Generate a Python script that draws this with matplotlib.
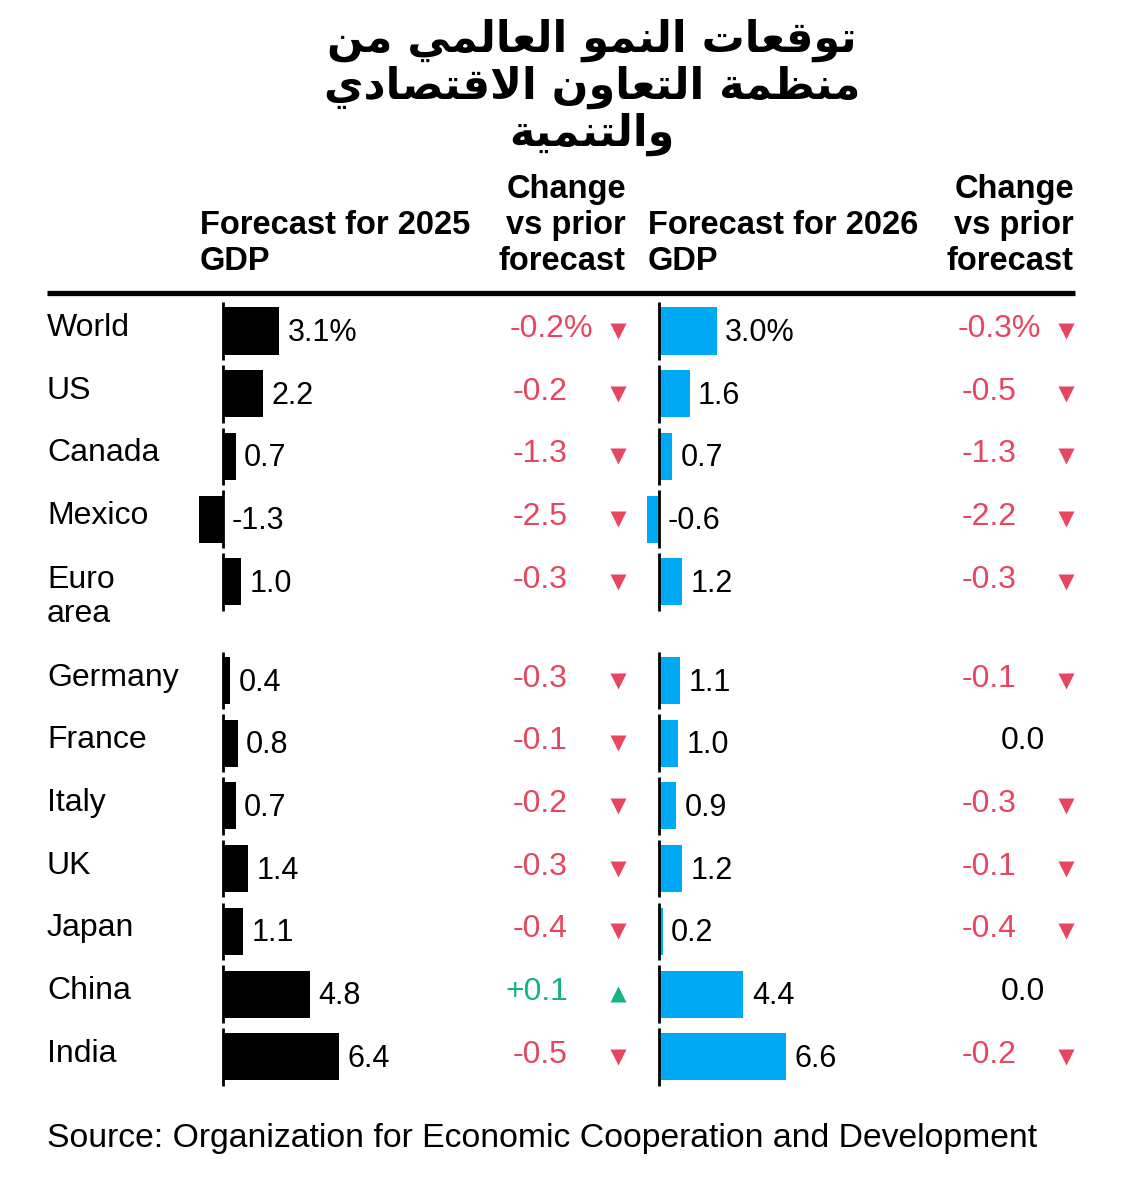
import matplotlib
matplotlib.use("Agg")
import matplotlib.pyplot as plt
import numpy as np

# ---------------- data ----------------
countries = ["World", "US", "Canada", "Mexico", "Euro\narea", "Germany", "France",
             "Italy", "UK", "Japan", "China", "India"]
gdp_2025 = [3.1, 2.2, 0.7, -1.3, 1.0, 0.4, 0.8, 0.7, 1.4, 1.1, 4.8, 6.4]
chg_2025 = [-0.2, -0.2, -1.3, -2.5, -0.3, -0.3, -0.1, -0.2, -0.3, -0.4, 0.1, -0.5]
gdp_2026 = [3.0, 1.6, 0.7, -0.6, 1.2, 1.1, 1.0, 0.9, 1.2, 0.2, 4.4, 6.6]
chg_2026 = [-0.3, -0.5, -1.3, -2.2, -0.3, -0.1, 0.0, -0.3, -0.1, -0.4, 0.0, -0.2]

title_lines = ["توقعات النمو العالمي من", "منظمة التعاون الاقتصادي", "والتنمية"]
header_2025 = "Forecast for 2025\nGDP"
header_2026 = "Forecast for 2026\nGDP"
header_chg = "Change\nvs prior\nforecast"
source = "Source: Organization for Economic Cooperation and Development"

# ---------------- arabic shaping (presentation forms, visual order) ----------------
FORMS = {
    '\u0627': (0xFE8D, 0xFE8E, None, None),
    '\u062A': (0xFE95, 0xFE96, 0xFE97, 0xFE98),
    '\u0629': (0xFE93, 0xFE94, None, None),
    '\u062F': (0xFEA9, 0xFEAA, None, None),
    '\u0635': (0xFEB9, 0xFEBA, 0xFEBB, 0xFEBC),
    '\u0638': (0xFEC5, 0xFEC6, 0xFEC7, 0xFEC8),
    '\u0639': (0xFEC9, 0xFECA, 0xFECB, 0xFECC),
    '\u0642': (0xFED5, 0xFED6, 0xFED7, 0xFED8),
    '\u0644': (0xFEDD, 0xFEDE, 0xFEDF, 0xFEE0),
    '\u0645': (0xFEE1, 0xFEE2, 0xFEE3, 0xFEE4),
    '\u0646': (0xFEE5, 0xFEE6, 0xFEE7, 0xFEE8),
    '\u0648': (0xFEED, 0xFEEE, None, None),
    '\u064A': (0xFEF1, 0xFEF2, 0xFEF3, 0xFEF4),
    'LA': (0xFEFB, 0xFEFC, None, None),
}


def shape_word(word):
    toks = []
    i = 0
    while i < len(word):
        if word[i] == '\u0644' and i + 1 < len(word) and word[i + 1] == '\u0627':
            toks.append('LA')
            i += 2
        else:
            toks.append(word[i])
            i += 1
    out = []
    for k, t in enumerate(toks):
        f = FORMS.get(t)
        if f is None:
            out.append(t)
            continue
        prev_join = k > 0 and FORMS.get(toks[k - 1]) is not None and FORMS[toks[k - 1]][2] is not None
        next_join = f[2] is not None and k + 1 < len(toks) and FORMS.get(toks[k + 1]) is not None
        if prev_join and next_join:
            c = f[3]
        elif prev_join:
            c = f[1]
        elif next_join:
            c = f[2]
        else:
            c = f[0]
        out.append(chr(c))
    return ''.join(out)


def shape_line(line):
    shaped = ' '.join(shape_word(w) for w in line.split(' '))
    return shaped[::-1]


# ---------------- layout ----------------
W, H = 1122, 1200
fig = plt.figure(figsize=(W / 100, H / 100), dpi=100)
plt.rcParams['font.family'] = ['Liberation Sans', 'DejaVu Sans']

ROW0, ROWH = 331.0, 62.7
Y0, Y1 = 295.0, 1100.0
n = len(countries)
pos = np.arange(n) + np.where(np.arange(n) >= 5, 0.575, 0.0)
row_px = ROW0 + pos * ROWH

RED = '#E6465F'
GREEN = '#17B27E'
BLUE = '#00A9F4'

ov = fig.add_axes([0, 0, 1, 1])
ov.set_xlim(0, W)
ov.set_ylim(H, 0)
ov.axis('off')


def panel(x0, zero, scale, x1):
    a = fig.add_axes([x0 / W, 1 - Y1 / H, (x1 - x0) / W, (Y1 - Y0) / H])
    a.set_xlim((x0 - zero) / scale, (x1 - zero) / scale)
    a.set_ylim((Y1 - ROW0) / ROWH, (Y0 - ROW0) / ROWH)
    a.axis('off')
    return a


def fmt_val(v, i):
    s = f"{v:.1f}"
    return s + '%' if i == 0 else s


def fmt_chg(v):
    if v > 0:
        return f"+{v:.1f}"
    if v < 0:
        return f"{v:.1f}"
    return "0.0"


def draw_bars(a, vals, color):
    a.barh(pos, vals, height=0.75, color=color, zorder=2)
    a.vlines(np.zeros(n), pos - 0.46, pos + 0.46, color='black', lw=2.0, zorder=3)
    for i, (p, v) in enumerate(zip(pos, vals)):
        a.annotate(fmt_val(v, i), xy=(max(v, 0), p), xytext=(6, -1.5),
                   textcoords='offset points', ha='left', va='center',
                   fontsize=22, color='black')


def draw_changes(vals, x_left, x_right, x_tri):
    for i, (y, v) in enumerate(zip(row_px, vals)):
        yt = y - 2
        if v == 0:
            ov.text(x_tri - 43, yt, fmt_chg(v), ha='center', va='center',
                    fontsize=23, color='black')
            continue
        col = GREEN if v > 0 else RED
        if i == 0:
            ov.text(x_left, yt, fmt_chg(v) + '%', ha='left', va='center',
                    fontsize=23, color=col)
        else:
            ov.text(x_right, yt, fmt_chg(v), ha='right', va='center',
                    fontsize=23, color=col)
        ov.plot([x_tri], [y], marker='^' if v > 0 else 'v', ms=11,
                color=col, mec='none', linestyle='none')


left = panel(190, 223, 18.2, 500)
right = panel(640, 659, 19.2, 940)
draw_bars(left, gdp_2025, 'black')
draw_bars(right, gdp_2026, BLUE)
draw_changes(chg_2025, 510, 568, 618)
draw_changes(chg_2026, 958, 1017, 1066)

# row labels
for name, y in zip(countries, row_px):
    if '\n' in name:
        ov.text(47, y - 3 + 18, name, ha='left', va='center', fontsize=23,
                linespacing=1.2)
    else:
        ov.text(47, y - 3, name, ha='left', va='center', fontsize=23)

# headers
HS = 23.5
ov.text(200, 210, header_2025, ha='left', va='top', fontsize=HS, fontweight='bold',
        linespacing=1.2)
ov.text(648, 210, header_2026, ha='left', va='top', fontsize=HS, fontweight='bold',
        linespacing=1.2)
ov.text(626, 174, header_chg, ha='right', va='top', fontsize=HS, fontweight='bold',
        linespacing=1.2, multialignment='right')
ov.text(1074, 174, header_chg, ha='right', va='top', fontsize=HS, fontweight='bold',
        linespacing=1.2, multialignment='right')
ov.hlines(293, 47, 1075, color='black', lw=3.8)

# title
for k, line in enumerate(title_lines):
    ov.text(592, 40 + 47 * k, shape_line(line), ha='center', va='center',
            fontsize=31, fontweight='bold', family='DejaVu Sans')

ov.text(47, 1139, source, ha='left', va='center', fontsize=24.3)

fig.savefig('out.png', dpi=100, facecolor='white')
